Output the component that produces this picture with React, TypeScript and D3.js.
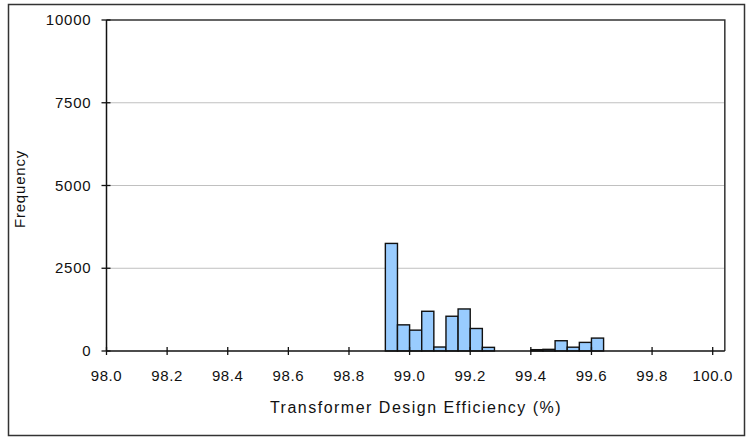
import React from "react";
import * as d3 from "d3";

const binStarts = [98.92, 98.96, 99.0, 99.04, 99.08, 99.12, 99.16, 99.2, 99.24, 99.4, 99.44, 99.48, 99.52, 99.56, 99.6];
const frequencies = [3250, 790, 630, 1200, 120, 1050, 1270, 680, 110, 40, 50, 310, 115, 260, 390];
const binWidth = 0.04;
const xTicks = [98.0, 98.2, 98.4, 98.6, 98.8, 99.0, 99.2, 99.4, 99.6, 99.8, 100.0];
const yTicks = [0, 2500, 5000, 7500, 10000];
const xTitle = "Transformer Design Efficiency (%)";
const yTitle = "Frequency";

export default function App() {
  const W = 746, H = 437;
  const x = d3.scaleLinear().domain([98, 100]).range([106.5, 712.7]);
  const y = d3.scaleLinear().domain([0, 10000]).range([351, 20]);
  const plotRight = x(100.04);
  const font = "'Liberation Sans', Arial, sans-serif";
  return (
    <svg width={W} height={H} style={{ position: "absolute", left: 0, top: 0 }} fontFamily={font}>
      <rect x={0} y={0} width={W} height={H} fill="#fff" />
      <rect x={8.5} y={4.5} width={736} height={431} fill="none" stroke="#333" strokeWidth={1.5} />
      {yTicks.filter(t => t > 0 && t < 10000).map(t => (
        <line key={t} x1={x(98)} x2={plotRight} y1={y(t)} y2={y(t)} stroke="#c0c0c0" strokeWidth={1} />
      ))}
      <path d={`M${x(98)},${y(10000)}H${plotRight}V${y(0)}`} fill="none" stroke="#333" strokeWidth={1.5} />
      {binStarts.map((b, i) => (
        <rect key={i} x={x(b)} y={y(frequencies[i])} width={x(b + binWidth) - x(b)} height={y(0) - y(frequencies[i])}
          fill="#99ccff" stroke="#111" strokeWidth={1.4} />
      ))}
      <line x1={x(98)} x2={plotRight} y1={y(0)} y2={y(0)} stroke="#111" strokeWidth={1.5} />
      <line x1={x(98)} x2={x(98)} y1={y(0)} y2={y(10000)} stroke="#111" strokeWidth={1.5} />
      {xTicks.map(t => (
        <g key={t}>
          <line x1={x(t)} x2={x(t)} y1={y(0) - 4} y2={y(0) + 4} stroke="#111" strokeWidth={1.3} />
          <text x={x(t)} y={y(0) + 30} textAnchor="middle" fontSize={15} letterSpacing={0.6} fill="#111">{t.toFixed(1)}</text>
        </g>
      ))}
      {yTicks.map(t => (
        <g key={t}>
          <line x1={x(98) - 5} x2={x(98) + 4} y1={y(t)} y2={y(t)} stroke="#111" strokeWidth={1.3} />
          <text x={x(98) - 15} y={y(t) + 5} textAnchor="end" fontSize={15} letterSpacing={0.8} fill="#111">{t}</text>
        </g>
      ))}
      <text x={416} y={413} textAnchor="middle" fontSize={16} letterSpacing={1.5} fill="#111">{xTitle}</text>
      <text transform={`translate(25,${189}) rotate(-90)`} textAnchor="middle" fontSize={15} letterSpacing={0.8} fill="#111">{yTitle}</text>
    </svg>
  );
}
